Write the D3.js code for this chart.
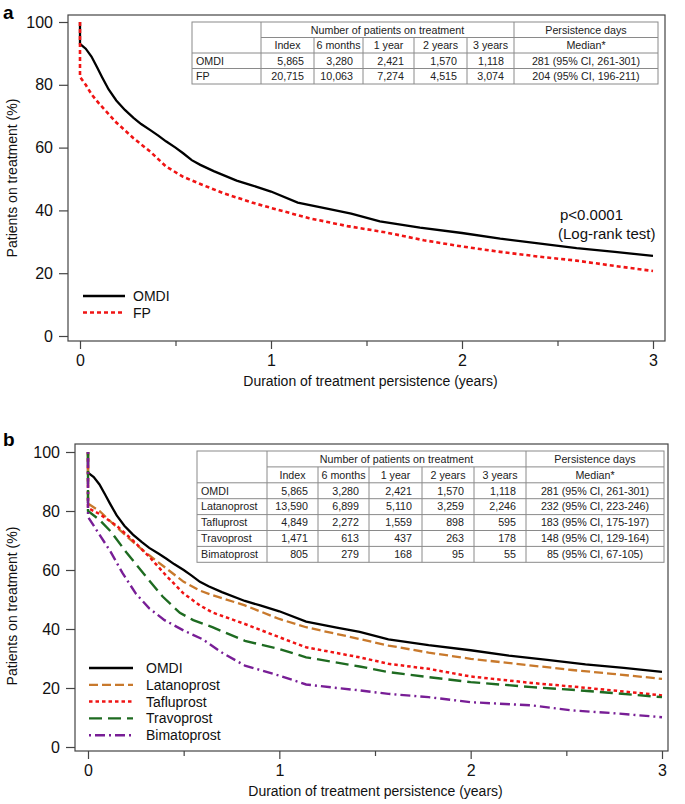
<!DOCTYPE html>
<html>
<head>
<meta charset="utf-8">
<script src="https://cdn.jsdelivr.net/npm/d3@7"></script>
<style>
  body { margin: 0; background: #fff; }
  svg { display: block; font-family: "Liberation Sans", Arial, sans-serif; }
</style>
</head>
<body>
<script>
// ---- data: [years, % on treatment] ----
var omdi = [[0,100],[0,93],[0.03,91.5],[0.06,89],[0.09,85.5],[0.115,82.5],[0.15,78.5],[0.19,75],
    [0.235,72],[0.28,69.5],[0.32,67.5],[0.37,65.5],[0.41,63.8],[0.45,62],[0.5,60],[0.54,58.2],
    [0.585,56],[0.63,54.5],[0.7,52.5],[0.82,49.5],[0.9,48],[1.0,46],[1.14,42.5],[1.3,40.5],[1.42,39],
    [1.57,36.5],[1.78,34.5],[2.0,32.8],[2.2,31],[2.4,29.5],[2.6,28],[2.8,26.8],[3.0,25.5]];
var fp = [[0,100],[0,82.5],[0.03,80],[0.06,77],[0.1,74],[0.19,68],[0.28,63],[0.37,58.6],[0.45,54],
    [0.54,50.7],[0.63,48.4],[0.75,45.5],[0.9,42.5],[1.0,40.8],[1.2,37.5],[1.4,35],[1.6,33],[1.8,30.5],
    [2.0,28.5],[2.2,26.8],[2.4,25.3],[2.6,24],[2.8,22.3],[3.0,20.7]];
var latanoprost = [[0,100],[0,82.5],[0.06,80],[0.15,74.5],[0.235,69.5],[0.32,65],[0.41,60.5],[0.5,56],
    [0.585,53],[0.65,51.5],[0.82,48],[1.0,43.4],[1.14,40.6],[1.42,36.6],[1.57,34.4],[1.78,32],
    [2.0,29.9],[2.32,27.6],[2.53,26.1],[2.74,24.8],[3.0,23.1]];
var tafluprost = [[0,100],[0,81],[0.06,79],[0.15,75],[0.235,70],[0.32,64.5],[0.41,58],[0.5,52],
    [0.585,48],[0.65,45.6],[0.82,41.7],[1.0,37.2],[1.14,33.8],[1.42,30.4],[1.57,28.2],[1.78,26.5],
    [2.0,23.9],[2.32,21.7],[2.53,20.5],[2.74,19.2],[3.0,17.5]];
var travoprost = [[0,100],[0,80],[0.06,77],[0.12,73],[0.2,66],[0.3,58],[0.39,51],[0.48,45.5],
    [0.55,43],[0.65,40.6],[0.82,36],[1.0,33.2],[1.14,30.4],[1.42,27.3],[1.57,25.4],[1.78,23.7],
    [2.0,22],[2.32,20.3],[2.53,19.4],[2.74,18.3],[3.0,16.9]];
var bimatoprost = [[0,100],[0,78],[0.06,72],[0.12,66],[0.18,59],[0.25,52],[0.32,47],[0.4,43],
    [0.5,39.5],[0.6,36.5],[0.7,32],[0.82,27.6],[1.0,24.2],[1.14,21.2],[1.3,20],[1.42,19.2],[1.57,18],
    [1.78,16.9],[2.0,15.2],[2.32,14.1],[2.53,12.4],[2.74,11.5],[3.0,10.1]];

var xTicks = [0, 1, 2, 3];
var xMinorTicks = [0.5, 1.5, 2.5];
var yTicks = [0, 20, 40, 60, 80, 100];

// ---- table contents ----
var timePoints = ['Index', '6 months', '1 year', '2 years', '3 years'];
var rowsA = [
    ['OMDI', '5,865', '3,280', '2,421', '1,570', '1,118', '281 (95% CI, 261-301)'],
    ['FP', '20,715', '10,063', '7,274', '4,515', '3,074', '204 (95% CI, 196-211)']
];
var rowsB = [
    ['OMDI', '5,865', '3,280', '2,421', '1,570', '1,118', '281 (95% CI, 261-301)'],
    ['Latanoprost', '13,590', '6,899', '5,110', '3,259', '2,246', '232 (95% CI, 223-246)'],
    ['Tafluprost', '4,849', '2,272', '1,559', '898', '595', '183 (95% CI, 175-197)'],
    ['Travoprost', '1,471', '613', '437', '263', '178', '148 (95% CI, 129-164)'],
    ['Bimatoprost', '805', '279', '168', '95', '55', '85 (95% CI, 67-105)']
];

var svg = d3.select('body').append('svg')
    .attr('width', 685)
    .attr('height', 804);

/**
 * draw a results table
 */
function drawTable(g, cols, top, rowH, rows) {
    var lc = '#8a8a8a';
    var nRows = rows.length + 2;
    var bottom = top + rowH * nRows;
    var t = g.append('g').attr('font-size', '10.7px').attr('fill', '#222');
    t.append('rect')
        .attr('x', cols[0]).attr('y', top)
        .attr('width', cols[7] - cols[0]).attr('height', bottom - top)
        .attr('fill', '#fff').attr('stroke', lc);
    // vertical lines
    [1, 6].forEach(function(i) {
        t.append('line').attr('x1', cols[i]).attr('x2', cols[i])
            .attr('y1', top).attr('y2', bottom).attr('stroke', lc);
    });
    [2, 3, 4, 5].forEach(function(i) {
        t.append('line').attr('x1', cols[i]).attr('x2', cols[i])
            .attr('y1', top + rowH).attr('y2', bottom).attr('stroke', lc);
    });
    // horizontal lines
    t.append('line').attr('x1', cols[1]).attr('x2', cols[7])
        .attr('y1', top + rowH).attr('y2', top + rowH).attr('stroke', lc);
    for (var r = 2; r < nRows; r++) {
        t.append('line').attr('x1', cols[0]).attr('x2', cols[7])
            .attr('y1', top + rowH * r).attr('y2', top + rowH * r).attr('stroke', lc);
    }
    var cy = function(r) { return top + rowH * r + rowH / 2 + 3.8; };
    t.append('text').attr('x', (cols[1] + cols[6]) / 2).attr('y', cy(0))
        .attr('text-anchor', 'middle').text('Number of patients on treatment');
    t.append('text').attr('x', (cols[6] + cols[7]) / 2).attr('y', cy(0))
        .attr('text-anchor', 'middle').text('Persistence days');
    timePoints.forEach(function(d, i) {
        t.append('text').attr('x', (cols[i + 1] + cols[i + 2]) / 2).attr('y', cy(1))
            .attr('text-anchor', 'middle').text(d);
    });
    t.append('text').attr('x', (cols[6] + cols[7]) / 2).attr('y', cy(1))
        .attr('text-anchor', 'middle').text('Median*');
    rows.forEach(function(row, r) {
        row.forEach(function(cell, c) {
            var txt = t.append('text').attr('y', cy(r + 2)).text(cell);
            if (c === 0) txt.attr('x', cols[0] + 4);
            else if (c === 6) txt.attr('x', (cols[6] + cols[7]) / 2).attr('text-anchor', 'middle');
            else txt.attr('x', cols[c + 1] - 10).attr('text-anchor', 'end');
        });
    });
}

/**
 * draw one survival panel
 */
function drawPanel(p) {
    var g = svg.append('g');
    var x = d3.scaleLinear().domain([0, 3]).range(p.xr);
    var y = d3.scaleLinear().domain([0, 100]).range(p.yr);

    // frame
    g.append('rect')
        .attr('x', p.box[0]).attr('y', p.box[1])
        .attr('width', p.box[2] - p.box[0]).attr('height', p.box[3] - p.box[1])
        .attr('fill', 'none').attr('stroke', '#444').attr('stroke-width', 1.2);

    // y axis
    var ya = g.append('g')
        .attr('transform', 'translate(' + p.box[0] + ',0)')
        .call(d3.axisLeft(y).tickValues(yTicks).tickSize(9).tickPadding(6));
    ya.select('.domain').remove();
    ya.selectAll('line').attr('stroke', '#444').attr('stroke-width', 1.2);
    ya.selectAll('text').attr('font-size', '16px').attr('fill', '#111')
        .attr('font-family', '"Liberation Sans", Arial, sans-serif');

    // x axis
    var xa = g.append('g')
        .attr('transform', 'translate(0,' + p.box[3] + ')')
        .call(d3.axisBottom(x).tickValues(xTicks).tickSize(8).tickPadding(6)
            .tickFormat(d3.format('d')));
    xa.select('.domain').remove();
    xa.selectAll('line').attr('stroke', '#444').attr('stroke-width', 1.2);
    xa.selectAll('text').attr('font-size', '16px').attr('fill', '#111')
        .attr('font-family', '"Liberation Sans", Arial, sans-serif');
    var xm = g.append('g')
        .attr('transform', 'translate(0,' + p.box[3] + ')')
        .call(d3.axisBottom(x).tickValues(xMinorTicks).tickSize(5).tickFormat(''));
    xm.select('.domain').remove();
    xm.selectAll('line').attr('stroke', '#444').attr('stroke-width', 1.2);

    // titles
    g.append('text')
        .attr('x', (p.box[0] + p.box[2]) / 2 + 4).attr('y', p.box[3] + 45)
        .attr('text-anchor', 'middle').attr('font-size', '14px').attr('fill', '#111')
        .text('Duration of treatment persistence (years)');
    g.append('text')
        .attr('transform', 'translate(17,' + p.ytitle + ') rotate(-90)')
        .attr('text-anchor', 'middle').attr('font-size', '14px').attr('fill', '#111')
        .text('Patients on treatment (%)');
    g.append('text')
        .attr('x', 3).attr('y', p.label[1])
        .attr('font-size', '19px').attr('font-weight', 'bold').text(p.label[0]);

    // curves
    var line = d3.line()
        .x(function(d) { return x(d[0]); })
        .y(function(d) { return y(d[1]); });
    p.series.forEach(function(s) {
        g.append('path')
            .datum(s.data)
            .attr('d', line)
            .attr('fill', 'none')
            .attr('stroke', s.color)
            .attr('stroke-width', s.width)
            .attr('stroke-dasharray', s.dash);
    });

    // legend
    p.series.forEach(function(s, i) {
        var ly = p.legend.y + i * p.legend.dy;
        g.append('line')
            .attr('x1', p.legend.x).attr('x2', p.legend.x + p.legend.len)
            .attr('y1', ly).attr('y2', ly)
            .attr('stroke', s.color).attr('stroke-width', s.width)
            .attr('stroke-dasharray', s.dash);
        g.append('text')
            .attr('x', p.legend.x + p.legend.len + p.legend.gap).attr('y', ly + 5)
            .attr('font-size', '14px').attr('fill', '#111').text(s.name);
    });

    drawTable(g, p.table.cols, p.table.top, p.table.rowH, p.table.rows);
    return g;
}

var black = { name: 'OMDI', data: omdi, color: '#000', width: 2.3, dash: null };

var ga = drawPanel({
    box: [68, 15, 665, 341],
    xr: [80, 653],
    yr: [336, 22],
    ytitle: 178,
    label: ['a', 19],
    series: [
        black,
        { name: 'FP', data: fp, color: '#f01414', width: 2.6, dash: '4,3' }
    ],
    legend: { x: 83, y: 296, dy: 16.5, len: 42, gap: 8 },
    table: { cols: [192, 261, 314, 363, 414, 467, 514, 658], top: 22, rowH: 15.5, rows: rowsA }
});
ga.append('text').attr('x', 560).attr('y', 220).attr('font-size', '15px').attr('fill', '#111').text('p<0.0001');
ga.append('text').attr('x', 558).attr('y', 239).attr('font-size', '15px').attr('fill', '#111').text('(Log-rank test)');

drawPanel({
    box: [75, 444, 668, 751],
    xr: [88, 662],
    yr: [747, 452],
    ytitle: 606,
    label: ['b', 446],
    series: [
        black,
        { name: 'Latanoprost', data: latanoprost, color: '#c8792c', width: 2.3, dash: '9,4' },
        { name: 'Tafluprost', data: tafluprost, color: '#f01414', width: 2.5, dash: '3.5,3' },
        { name: 'Travoprost', data: travoprost, color: '#1e6b21', width: 2.4, dash: '13,6' },
        { name: 'Bimatoprost', data: bimatoprost, color: '#781e96', width: 2.4, dash: '2,4,10,4' }
    ],
    legend: { x: 89, y: 668, dy: 16.8, len: 44, gap: 13 },
    table: { cols: [197, 267, 318, 369, 422, 474, 526, 664], top: 451, rowH: 15.9, rows: rowsB }
});
</script>
</body>
</html>
